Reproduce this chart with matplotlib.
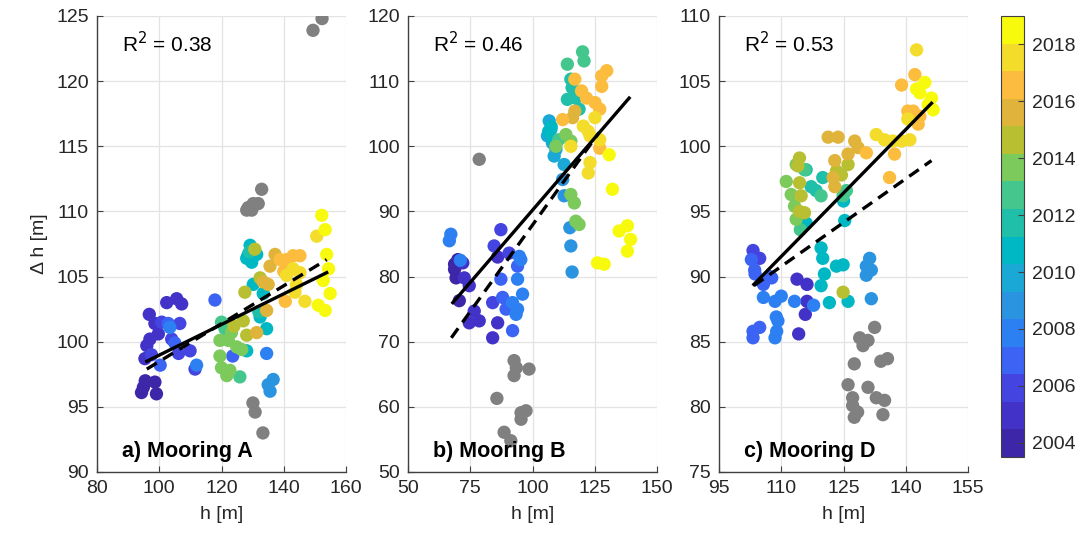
import numpy as np
import matplotlib
matplotlib.use("Agg")
import matplotlib.pyplot as plt
from matplotlib.colors import ListedColormap, Normalize
from matplotlib.cm import ScalarMappable

plt.rcParams['font.family'] = ['Liberation Sans', 'DejaVu Sans']

# parula-like colours, 16 levels
parula16 = ["#3e26a8", "#4232c8", "#4444e0", "#3c64f4", "#2c80f2", "#2a94e0",
            "#1aa8d6", "#00b8c4", "#20bfaa", "#44c78c", "#7cc95c", "#b8c032",
            "#e0b43a", "#fcbc3e", "#f4dc2a", "#f8fa0e"]
yr_min, yr_max = 2003.5, 2019.0
cbar_ticks = [2004, 2006, 2008, 2010, 2012, 2014, 2016, 2018]

# ---- Mooring A ----
h_a = [94.9, 94.3, 98.6, 99.1, 95.5,
       96.8, 96.0, 95.4, 97.0, 98.6, 99.7, 102.4, 105.6, 107.2,
       100.8, 106.6, 104.0, 106.2, 109.9, 111.5, 97.5,
       102.9, 105.0, 117.9, 123.6, 100.3,
       103.4, 112.0, 134.5, 135.0, 136.6, 135.6,
       129.2, 128.6, 129.7, 131.3, 128.1, 130.2, 133.4, 132.4, 134.5, 128.1,
       129.0, 132.0,
       120.0, 121.1, 125.9,
       119.5, 122.2, 123.2, 119.5, 120.0, 121.7, 122.7, 124.9, 126.5,
       127.5, 130.7, 127.0, 128.1, 132.4, 124.0,
       131.3, 134.5, 133.4, 135.0, 135.6, 137.2,
       138.8, 140.9, 143.0, 145.2, 140.5, 140.0,
       140.9, 143.0, 144.1, 146.8, 143.6, 145.2, 150.6,
       152.2, 153.3, 153.8, 154.4, 152.7, 154.9, 151.1, 153.3]
dh_a = [96.5, 96.1, 96.9, 96.0, 97.0,
        102.1, 99.7, 98.7, 100.2, 101.4, 100.6, 103.0, 103.3, 102.9,
        101.5, 101.4, 100.2, 99.1, 99.3, 97.9, 99.0,
        101.4, 99.9, 103.2, 98.9, 98.2,
        101.1, 98.2, 99.1, 96.7, 97.1, 96.2,
        107.4, 106.7, 106.1, 106.7, 106.4, 104.4, 103.7, 101.9, 101.0, 99.3,
        106.9, 102.3,
        101.5, 101.0, 97.3,
        100.1, 100.1, 100.7, 98.9, 98.0, 97.4, 97.8, 99.6, 99.4,
        103.8, 107.1, 101.6, 100.5, 104.9, 101.2,
        100.7, 102.4, 104.6, 104.4, 105.8, 106.7,
        106.3, 106.3, 106.6, 106.6, 103.1, 105.4,
        105.1, 105.6, 104.4, 103.1, 103.8, 105.3, 108.1,
        109.7, 108.6, 106.7, 105.6, 104.7, 103.7, 102.8, 102.4]
yr_a = [2004.0] * 5 + [2005.0] * 9 + [2005.9] * 7 + [2006.9] * 5 + [2007.9] * 3 + \
       [2008.8] * 3 + [2010.8] * 10 + [2011.7] * 2 + [2012.7] * 3 + [2013.7] * 9 + \
       [2014.6] * 6 + [2015.6] * 6 + [2016.6] * 6 + [2017.5] * 7 + [2018.5] * 8
h_a_out = [132.9, 128.6, 130.2, 131.8, 128.1, 129.7, 149.4, 152.3, 130.1, 130.8, 133.3]
dh_a_out = [111.7, 110.3, 110.6, 110.6, 110.1, 110.1, 123.9, 124.8, 95.3, 94.6, 93.0]
fit_a_x = [96.0, 153.8]
fit_a_y = [98.5, 105.3]
fit2_a_x = [96.0, 153.8]
fit2_a_y = [97.9, 106.3]

# ---- Mooring B ----
h_b = [69.3, 68.7, 70.6, 70.0, 68.7,
       72.6, 74.6, 76.6, 74.6, 78.6, 72.0, 86.0, 86.0, 84.0,
       84.0, 84.6, 87.3, 90.6,
       87.3, 88.0, 89.4, 92.0, 94.0,
       92.0, 94.0, 96.0, 94.0, 93.4, 67.2, 66.6, 94.7, 95.3, 71.0,
       115.9, 115.4, 115.0, 112.1, 112.7,
       106.7, 107.4, 106.0, 108.0, 109.4, 108.7, 112.7,
       107.5, 106.5, 108.5,
       115.4, 115.9, 117.4, 114.0, 118.7,
       120.1, 120.7, 114.0, 110.5,
       113.4, 115.4, 109.4, 115.4, 116.8, 117.4, 118.7,
       117.0, 116.1,
       117.0, 119.7, 121.7, 125.1, 127.0, 127.8, 129.8, 127.8, 112.1, 127.0,
       125.1, 120.4, 122.4, 123.1, 115.4, 127.0, 123.1, 122.4,
       130.8, 132.1, 134.8, 138.1, 139.4, 138.1, 126.1, 128.8]
dh_b = [79.8, 81.1, 76.3, 82.6, 81.9,
        79.8, 78.6, 74.7, 72.9, 73.2, 82.1, 83.0, 72.9, 70.6,
        76.0, 84.7, 87.2, 83.6,
        79.6, 76.8, 75.0, 71.7, 81.6,
        76.0, 79.6, 77.3, 75.0, 74.2, 86.5, 85.5, 83.1, 82.6, 82.5,
        80.7, 84.7, 87.5, 94.9, 92.4,
        103.9, 102.6, 101.6, 100.5, 99.5, 98.5, 97.2,
        103.0, 102.3, 101.0,
        110.3, 109.0, 107.4, 107.2, 105.7,
        114.5, 113.1, 112.6, 101.0,
        101.8, 100.8, 100.0, 92.6, 91.3, 88.5, 88.0,
        105.4, 104.4,
        110.3, 108.5, 107.4, 106.7, 105.7, 110.8, 111.6, 109.2, 104.1, 99.7,
        104.4, 103.1, 102.3, 101.6, 100.0, 101.0, 97.5, 95.9,
        98.7, 93.4, 87.0, 87.8, 85.7, 83.9, 82.1, 81.9]
yr_b = [2004.0] * 5 + [2005.0] * 9 + [2005.9] * 4 + [2006.9] * 5 + [2007.9] * 10 + \
       [2008.8] * 5 + [2009.8] * 7 + [2010.8] * 3 + [2011.7] * 5 + [2012.7] * 4 + \
       [2013.7] * 7 + [2015.6] * 2 + [2016.6] * 10 + [2017.5] * 8 + [2018.5] * 8
h_b_out = [78.6, 92.6, 98.6, 92.6, 85.7, 95.4, 97.4, 95.4, 88.6, 91.3, 93.5]
dh_b_out = [98.0, 67.1, 65.8, 64.8, 61.3, 59.1, 59.4, 58.1, 56.1, 54.8, 66.0]
fit_b_x = [68.0, 138.8]
fit_b_y = [76.0, 107.4]
fit2_b_x = [67.4, 126.7]
fit2_b_y = [70.6, 102.1]

# ---- Mooring D ----
h_c = [113.8, 116.2, 116.2, 115.8, 114.2,
       104.8, 103.2,
       102.8, 103.6, 107.2, 103.7, 107.7, 105.7, 104.8, 103.2, 103.2,
       105.7, 108.5, 110.0, 113.2, 117.8, 108.8, 109.2, 108.5, 108.9,
       131.3, 130.5, 131.7, 131.7, 130.5,
       125.3, 119.6, 120.0, 123.3, 124.9, 120.4, 119.6, 121.6, 126.1, 116.0, 125.0,
       120.0, 118.4, 116.0, 117.2,
       119.6, 124.9, 125.7, 115.6, 114.6,
       111.2, 112.4, 113.2, 113.6, 113.6,
       114.4, 114.0, 114.4, 114.8, 115.6, 114.4, 123.3, 126.1, 124.5, 124.9,
       121.3, 123.7, 127.7, 128.5, 122.9, 126.1, 122.9, 122.5,
       130.5, 137.3, 136.1, 140.5, 141.8, 143.4, 143.0, 139.0, 142.2,
       132.9, 134.9, 136.9, 139.0, 141.0, 142.6, 140.5,
       144.6, 142.6, 143.4, 146.2, 146.6, 145.4]
dh_c = [89.8, 89.4, 88.1, 87.1, 85.6,
        91.4, 92.0,
        91.3, 90.5, 90.0, 90.2, 89.9, 89.4, 86.1, 85.3, 85.8,
        88.4, 88.1, 88.5, 88.1, 87.8, 86.9, 86.6, 85.3, 85.8,
        91.4, 90.8, 90.5, 88.3, 90.1,
        94.3, 92.2, 91.4, 90.8, 90.9, 90.2, 89.3, 88.0, 88.1, 94.1, 95.8,
        97.6, 96.6, 98.2, 96.9,
        96.2, 96.2, 96.6, 98.2, 93.6,
        97.3, 96.3, 95.4, 94.4, 98.6,
        99.1, 98.5, 97.2, 96.2, 94.9, 95.0, 98.1, 98.6, 97.8, 88.8,
        100.7, 100.7, 100.4, 99.9, 98.9, 99.4, 96.9, 97.6,
        99.5, 99.4, 97.6, 102.7, 102.7, 102.3, 101.7, 104.7, 105.5,
        100.9, 100.5, 100.4, 100.4, 100.5, 107.4, 102.1,
        104.9, 104.4, 104.1, 103.7, 102.8, 103.2]
yr_c = [2005.0] * 5 + [2005.9] * 2 + [2006.9] * 9 + [2007.9] * 9 + [2008.8] * 5 + \
       [2010.8] * 11 + [2011.7] * 4 + [2012.7] * 5 + [2013.7] * 5 + [2014.6] * 10 + \
       [2015.6] * 8 + [2016.6] * 9 + [2017.5] * 7 + [2018.5] * 6
h_c_out = [132.5, 128.9, 130.9, 129.7, 127.6, 134.0, 135.6, 126.1, 130.9, 132.9,
           134.9, 127.2, 127.2, 128.4, 127.6, 134.5]
dh_c_out = [86.1, 85.3, 85.1, 84.7, 83.3, 83.5, 83.7, 81.7, 81.5, 80.7,
            80.5, 80.7, 80.1, 79.6, 79.2, 79.4]
fit_c_x = [103.4, 146.2]
fit_c_y = [89.4, 103.3]
fit2_c_x = [103.4, 146.2]
fit2_c_y = [89.3, 98.9]

panels = [
    dict(h=h_a, dh=dh_a, yr=yr_a, ho=h_a_out, dho=dh_a_out,
         fx=fit_a_x, fy=fit_a_y, f2x=fit2_a_x, f2y=fit2_a_y,
         xlim=(80, 160), xt=[80, 100, 120, 140, 160],
         ylim=(90, 125), yt=np.arange(90, 126, 5),
         r2="0.38", name="a) Mooring A", left=97),
    dict(h=h_b, dh=dh_b, yr=yr_b, ho=h_b_out, dho=dh_b_out,
         fx=fit_b_x, fy=fit_b_y, f2x=fit2_b_x, f2y=fit2_b_y,
         xlim=(50, 150), xt=[50, 75, 100, 125, 150],
         ylim=(50, 120), yt=np.arange(50, 121, 10),
         r2="0.46", name="b) Mooring B", left=408),
    dict(h=h_c, dh=dh_c, yr=yr_c, ho=h_c_out, dho=dh_c_out,
         fx=fit_c_x, fy=fit_c_y, f2x=fit2_c_x, f2y=fit2_c_y,
         xlim=(95, 155), xt=[95, 110, 125, 140, 155],
         ylim=(75, 110), yt=np.arange(75, 111, 5),
         r2="0.53", name="c) Mooring D", left=719),
]

W, H = 1092, 542
cmap = ListedColormap(parula16)
norm = Normalize(vmin=yr_min, vmax=yr_max)
axcol = "#404040"
txtcol = "#262626"

fig = plt.figure(figsize=(W / 100, H / 100), dpi=100)
for i, p in enumerate(panels):
    ax = fig.add_axes([p["left"] / W, (H - 472) / H, 249 / W, 456 / H])
    ax.scatter(p["ho"], p["dho"], s=92, color="#808080", edgecolors="none", zorder=2)
    ax.scatter(p["h"], p["dh"], c=p["yr"], cmap=cmap, norm=norm, s=92,
               edgecolors="none", zorder=3)
    ax.plot(p["fx"], p["fy"], color="k", lw=2.4, zorder=4)
    ax.plot(p["f2x"], p["f2y"], color="k", lw=2.4, dashes=(3.5, 2.2), zorder=4)
    ax.set_xlim(*p["xlim"])
    ax.set_ylim(*p["ylim"])
    ax.set_xticks(p["xt"])
    ax.set_yticks(p["yt"])
    ax.grid(True, color="#e3e3e3", lw=0.9, zorder=0)
    ax.set_axisbelow(True)
    for s in ["top", "right"]:
        ax.spines[s].set_visible(False)
    for s in ["left", "bottom"]:
        ax.spines[s].set_color(axcol)
        ax.spines[s].set_linewidth(1.0)
    ax.tick_params(direction="in", length=4, width=0.8, color=axcol,
                   labelsize=14, labelcolor=txtcol, pad=6)
    ax.set_xlabel("h [m]", fontsize=14, color=txtcol, labelpad=6)
    if i == 0:
        ax.set_ylabel("\u0394 h [m]", fontsize=14, color=txtcol, labelpad=6)
    ax.text(0.10, 0.94, "R$^2$ = " + p["r2"], transform=ax.transAxes,
            fontsize=15, color="k", va="center", ha="left")
    ax.text(0.10, 0.045, p["name"], transform=ax.transAxes, fontsize=15.5,
            fontweight="bold", color="k", va="center", ha="left")

cax = fig.add_axes([1001 / W, (H - 457) / H, 23 / W, 441 / H])
cb = fig.colorbar(ScalarMappable(norm=norm, cmap=cmap), cax=cax, ticks=cbar_ticks)
cb.outline.set_edgecolor(axcol)
cb.outline.set_linewidth(0.8)
cax.tick_params(direction="in", length=4, width=0.8, color=axcol,
                labelsize=14, labelcolor=txtcol, pad=6)

fig.savefig("out.png", dpi=100)
